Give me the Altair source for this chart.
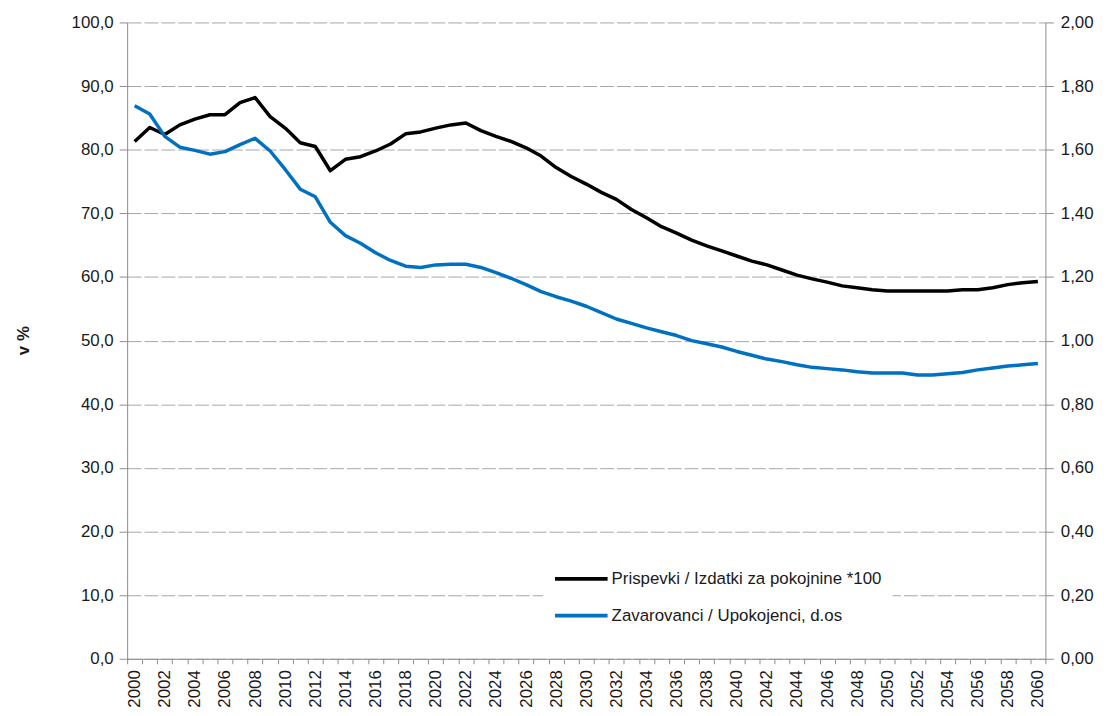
import altair as alt
import pandas as pd

years = list(range(2000, 2061))

prispevki = [81.3, 83.5, 82.4, 83.9, 84.8, 85.5, 85.5, 87.4, 88.2, 85.2,
             83.4, 81.1, 80.5, 76.7, 78.5, 78.9, 79.8, 80.9, 82.5, 82.8,
             83.4, 83.9, 84.2, 83.0, 82.1, 81.3, 80.3, 79.0, 77.2, 75.8,
             74.6, 73.3, 72.2, 70.6, 69.3, 67.9, 66.9, 65.8, 64.9, 64.1,
             63.3, 62.5, 61.9, 61.1, 60.3, 59.7, 59.2, 58.6, 58.3, 58.0,
             57.8, 57.8, 57.8, 57.8, 57.8, 58.0, 58.0, 58.3, 58.8, 59.1,
             59.3]

zavarovanci = [1.738, 1.712, 1.642, 1.608, 1.598, 1.586, 1.594, 1.616, 1.636, 1.596,
               1.538, 1.476, 1.452, 1.372, 1.330, 1.306, 1.276, 1.252, 1.234, 1.230,
               1.238, 1.240, 1.240, 1.230, 1.214, 1.196, 1.176, 1.154, 1.138, 1.124,
               1.108, 1.088, 1.068, 1.054, 1.040, 1.028, 1.016, 1.000, 0.990, 0.980,
               0.966, 0.954, 0.942, 0.934, 0.924, 0.916, 0.912, 0.908, 0.902, 0.898,
               0.898, 0.898, 0.892, 0.892, 0.896, 0.900, 0.908, 0.914, 0.920, 0.924,
               0.928]

series_names = ["Prispevki / Izdatki za pokojnine *100", "Zavarovanci / Upokojenci, d.os"]
series_colors = ["#000000", "#0070c0"]

left_ticks = [0, 10, 20, 30, 40, 50, 60, 70, 80, 90, 100]
right_ticks = [0, 0.2, 0.4, 0.6, 0.8, 1.0, 1.2, 1.4, 1.6, 1.8, 2.0]

df_a = pd.DataFrame({"year": years, "value": prispevki, "series": series_names[0]})
df_b = pd.DataFrame({"year": years, "value": zavarovanci, "series": series_names[1]})

FONT = "Liberation Sans"
AX = "#8c8c8c"
TXT = "#1a1a1a"

x_enc = alt.X(
    "year:O",
    scale=alt.Scale(type="band", paddingInner=0, paddingOuter=0),
    axis=alt.Axis(
        title=None,
        labelAngle=-90,
        labelExpr="datum.value % 2 == 0 ? datum.label : ''",
        labelOverlap=False,
        tickBand="extent",
        tickSize=5,
        labelPadding=6,
        labelFontSize=17,
        labelFont=FONT,
        labelColor=TXT,
        domainColor=AX,
        tickColor=AX,
        grid=False,
    ),
)

color_enc = alt.Color(
    "series:N",
    scale=alt.Scale(domain=series_names, range=series_colors),
    legend=alt.Legend(
        title=None,
        orient="none",
        legendX=419,
        legendY=522,
        direction="vertical",
        symbolType="stroke",
        symbolSize=2800,
        symbolStrokeWidth=4,
        labelFontSize=17,
        labelFont=FONT,
        labelColor=TXT,
        labelOffset=2,
        labelLimit=0,
        rowPadding=-2,
        padding=10,
        fillColor="white",
    ),
)

left = alt.Chart(df_a).mark_line(strokeWidth=3.5, strokeJoin="round").encode(
    x=x_enc,
    y=alt.Y(
        "value:Q",
        scale=alt.Scale(domain=[0, 100], nice=False),
        axis=alt.Axis(
            title="v %",
            titleFont=FONT,
            titleFontSize=17,
            titleFontWeight="bold",
            titleColor=TXT,
            titleAngle=270,
            titleX=-104,
            titleY=320,
            titleAlign="center",
            titleBaseline="middle",
            values=left_ticks,
            labelExpr="replace(format(datum.value, '.1f'), '.', ',')",
            labelFontSize=17,
            labelFont=FONT,
            labelColor=TXT,
            tickSize=8,
            labelPadding=6,
            domainColor=AX,
            tickColor=AX,
            grid=True,
            gridColor="#a6a6a6",
            gridDash=[14, 3],
            gridWidth=1,
        ),
    ),
    color=color_enc,
)

right = alt.Chart(df_b).mark_line(strokeWidth=3.5, strokeJoin="round").encode(
    x=x_enc,
    y=alt.Y(
        "value:Q",
        scale=alt.Scale(domain=[0, 2], nice=False),
        axis=alt.Axis(
            title=None,
            orient="right",
            values=right_ticks,
            labelExpr="replace(format(datum.value, '.2f'), '.', ',')",
            labelFontSize=17,
            labelFont=FONT,
            labelColor=TXT,
            tickSize=8,
            labelPadding=7,
            domainColor=AX,
            tickColor=AX,
            grid=False,
        ),
    ),
    color=color_enc,
)

chart = (
    alt.layer(left, right)
    .resolve_scale(y="independent", color="shared")
    .properties(
        width=925,
        height=641,
        autosize=alt.AutoSizeParams(type="none"),
        padding={"left": 120, "top": 12, "right": 57, "bottom": 47},
        background="white",
    )
    .configure_view(stroke=None)
)

chart.save("out.html", embed_options={"renderer": "svg", "actions": False})
